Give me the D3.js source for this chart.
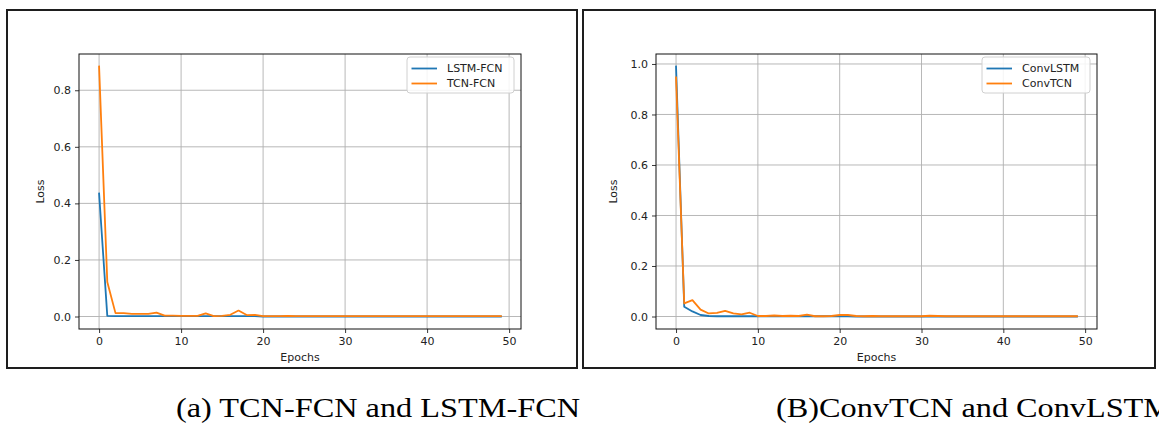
<!DOCTYPE html>
<html>
<head>
<meta charset="utf-8">
<script src="https://cdn.jsdelivr.net/npm/d3@7"></script>
<style>
  html, body { margin: 0; padding: 0; background: #fff; }
  svg { display: block; }
</style>
</head>
<body>
<svg id="chart" width="1159" height="424"></svg>
<script>
// Training loss per epoch (50 epochs) for four models
const epochs = d3.range(0, 50);

const lstmFcnLoss = [0.435, 0.002, 0.001, 0.001, 0.001, 0.001, 0.001, 0.001, 0.001, 0.001,
  0.001, 0.001, 0.001, 0.001, 0.001, 0.001, 0.001, 0.001, 0.001, 0.001,
  0.000, 0.000, 0.000, 0.000, 0.000, 0.000, 0.000, 0.000, 0.000, 0.000,
  0.000, 0.000, 0.000, 0.000, 0.000, 0.000, 0.000, 0.000, 0.000, 0.000,
  0.000, 0.000, 0.000, 0.000, 0.000, 0.000, 0.000, 0.000, 0.000, 0.000];

const tcnFcnLoss = [0.884, 0.122, 0.012, 0.012, 0.009, 0.009, 0.009, 0.014, 0.003, 0.003,
  0.002, 0.002, 0.002, 0.011, 0.001, 0.002, 0.006, 0.021, 0.005, 0.006,
  0.001, 0.001, 0.001, 0.002, 0.001, 0.001, 0.001, 0.001, 0.001, 0.001,
  0.001, 0.001, 0.001, 0.001, 0.001, 0.001, 0.001, 0.001, 0.001, 0.001,
  0.001, 0.001, 0.001, 0.001, 0.001, 0.001, 0.001, 0.001, 0.001, 0.001];

const convLstmLoss = [0.990, 0.039, 0.020, 0.006, 0.002, 0.001, 0.001, 0.001, 0.001, 0.001,
  0.001, 0.001, 0.001, 0.001, 0.001, 0.001, 0.001, 0.001, 0.001, 0.001,
  0.001, 0.001, 0.000, 0.000, 0.000, 0.000, 0.000, 0.000, 0.000, 0.000,
  0.000, 0.000, 0.000, 0.000, 0.000, 0.000, 0.000, 0.000, 0.000, 0.000,
  0.000, 0.000, 0.000, 0.000, 0.000, 0.000, 0.000, 0.000, 0.000, 0.000];

const convTcnLoss = [0.947, 0.052, 0.065, 0.027, 0.012, 0.014, 0.022, 0.012, 0.008, 0.015,
  0.002, 0.002, 0.004, 0.002, 0.003, 0.002, 0.007, 0.001, 0.001, 0.002,
  0.006, 0.006, 0.002, 0.001, 0.002, 0.001, 0.001, 0.001, 0.001, 0.001,
  0.001, 0.003, 0.002, 0.001, 0.001, 0.001, 0.001, 0.001, 0.001, 0.001,
  0.001, 0.001, 0.001, 0.001, 0.001, 0.001, 0.001, 0.001, 0.001, 0.001];

const xTicks = [0, 10, 20, 30, 40, 50];
const yTicksA = [0.0, 0.2, 0.4, 0.6, 0.8];
const yTicksB = [0.0, 0.2, 0.4, 0.6, 0.8, 1.0];

const seriesNamesA = ["LSTM-FCN", "TCN-FCN"];
const seriesNamesB = ["ConvLSTM", "ConvTCN"];
const captions = ["(a) TCN-FCN and LSTM-FCN", "(B)ConvTCN and ConvLSTM"];

const colors = ["#1f77b4", "#ff7f0e"];
const tickFont = "DejaVu Sans, sans-serif";

const svg = d3.select("#chart");

function drawPanel(opts) {
  const g = svg.append("g");

  // frame around the whole panel
  g.append("rect")
    .attr("x", opts.frame[0]).attr("y", opts.frame[1])
    .attr("width", opts.frame[2]).attr("height", opts.frame[3])
    .attr("fill", "none").attr("stroke", "#1e1e1e").attr("stroke-width", 2);

  const [left, top, right, bottom] = opts.plot;

  // matplotlib-style 5% margins around the data range
  const xMin = 0, xMax = epochs[epochs.length - 1];
  const xPad = (xMax - xMin) * 0.05;
  const allY = opts.series.flat();
  const yMin = d3.min(allY), yMax = d3.max(allY);
  const yPad = (yMax - yMin) * 0.05;

  const x = d3.scaleLinear().domain([xMin - xPad, xMax + xPad]).range([left, right]);
  const y = d3.scaleLinear().domain([yMin - yPad, yMax + yPad]).range([bottom, top]);

  // grid
  g.append("g").selectAll("line").data(opts.xTicks).join("line")
    .attr("x1", d => x(d)).attr("x2", d => x(d))
    .attr("y1", top).attr("y2", bottom)
    .attr("stroke", "#b0b0b0").attr("stroke-width", 0.9);
  g.append("g").selectAll("line").data(opts.yTicks).join("line")
    .attr("x1", left).attr("x2", right)
    .attr("y1", d => y(d)).attr("y2", d => y(d))
    .attr("stroke", "#b0b0b0").attr("stroke-width", 0.9);

  // series lines
  const line = d3.line().x((d, i) => x(epochs[i])).y(d => y(d));
  opts.series.forEach((s, k) => {
    g.append("path").datum(s)
      .attr("d", line)
      .attr("fill", "none")
      .attr("stroke", colors[k])
      .attr("stroke-width", 1.8)
      .attr("stroke-linejoin", "round")
      .attr("stroke-linecap", "square");
  });

  // axes
  const xAxis = d3.axisBottom(x).tickValues(opts.xTicks).tickFormat(d3.format("d"))
    .tickSize(4).tickPadding(4);
  const yAxis = d3.axisLeft(y).tickValues(opts.yTicks).tickFormat(d3.format(".1f"))
    .tickSize(4).tickPadding(4);

  const gx = g.append("g").attr("transform", `translate(0,${bottom})`).call(xAxis);
  const gy = g.append("g").attr("transform", `translate(${left},0)`).call(yAxis);
  [gx, gy].forEach(a => {
    a.select(".domain").remove();
    a.selectAll(".tick line").attr("stroke", "#222").attr("stroke-width", 0.9);
    a.selectAll(".tick text").attr("font-family", tickFont).attr("font-size", 11).attr("fill", "#222");
  });

  // axes box
  g.append("rect")
    .attr("x", left).attr("y", top)
    .attr("width", right - left).attr("height", bottom - top)
    .attr("fill", "none").attr("stroke", "#111").attr("stroke-width", 1);

  // axis labels
  g.append("text")
    .attr("x", (left + right) / 2).attr("y", opts.xLabelY)
    .attr("text-anchor", "middle")
    .attr("font-family", tickFont).attr("font-size", 11).attr("fill", "#222")
    .text("Epochs");
  g.append("text")
    .attr("transform", `translate(${opts.yLabelX},${(top + bottom) / 2}) rotate(-90)`)
    .attr("text-anchor", "middle")
    .attr("font-family", tickFont).attr("font-size", 11).attr("fill", "#222")
    .text("Loss");

  // legend
  const [lx, ly, lw, lh] = opts.legend;
  const lg = g.append("g");
  lg.append("rect")
    .attr("x", lx).attr("y", ly).attr("width", lw).attr("height", lh)
    .attr("rx", 3).attr("fill", "#fff").attr("fill-opacity", 0.85)
    .attr("stroke", "#d0d0d0").attr("stroke-width", 1);
  opts.names.forEach((name, k) => {
    const yy = ly + 11.5 + k * 15;
    lg.append("line")
      .attr("x1", lx + 4.5).attr("x2", lx + 30)
      .attr("y1", yy).attr("y2", yy)
      .attr("stroke", colors[k]).attr("stroke-width", 1.8);
    lg.append("text")
      .attr("x", lx + 40).attr("y", yy).attr("dy", "0.36em")
      .attr("font-family", tickFont).attr("font-size", 11).attr("fill", "#222")
      .text(name);
  });
}

drawPanel({
  frame: [7, 10, 570, 358],
  plot: [79, 54, 521, 329],
  series: [lstmFcnLoss, tcnFcnLoss],
  names: seriesNamesA,
  xTicks: xTicks,
  yTicks: yTicksA,
  legend: [407, 57, 107, 36],
  xLabelY: 361,
  yLabelX: 44
});

drawPanel({
  frame: [583, 10, 572, 358],
  plot: [656, 54, 1097, 329],
  series: [convLstmLoss, convTcnLoss],
  names: seriesNamesB,
  xTicks: xTicks,
  yTicks: yTicksB,
  legend: [982, 57, 108, 36],
  xLabelY: 361,
  yLabelX: 617
});

// figure captions
svg.append("text")
  .attr("x", 176).attr("y", 417)
  .attr("font-family", "Liberation Serif, Times New Roman, serif")
  .attr("font-size", 28).attr("fill", "#000")
  .attr("textLength", 404).attr("lengthAdjust", "spacingAndGlyphs")
  .text(captions[0]);
svg.append("text")
  .attr("x", 776).attr("y", 417)
  .attr("font-family", "Liberation Serif, Times New Roman, serif")
  .attr("font-size", 28).attr("fill", "#000")
  .attr("textLength", 396).attr("lengthAdjust", "spacingAndGlyphs")
  .text(captions[1]);
</script>
</body>
</html>
